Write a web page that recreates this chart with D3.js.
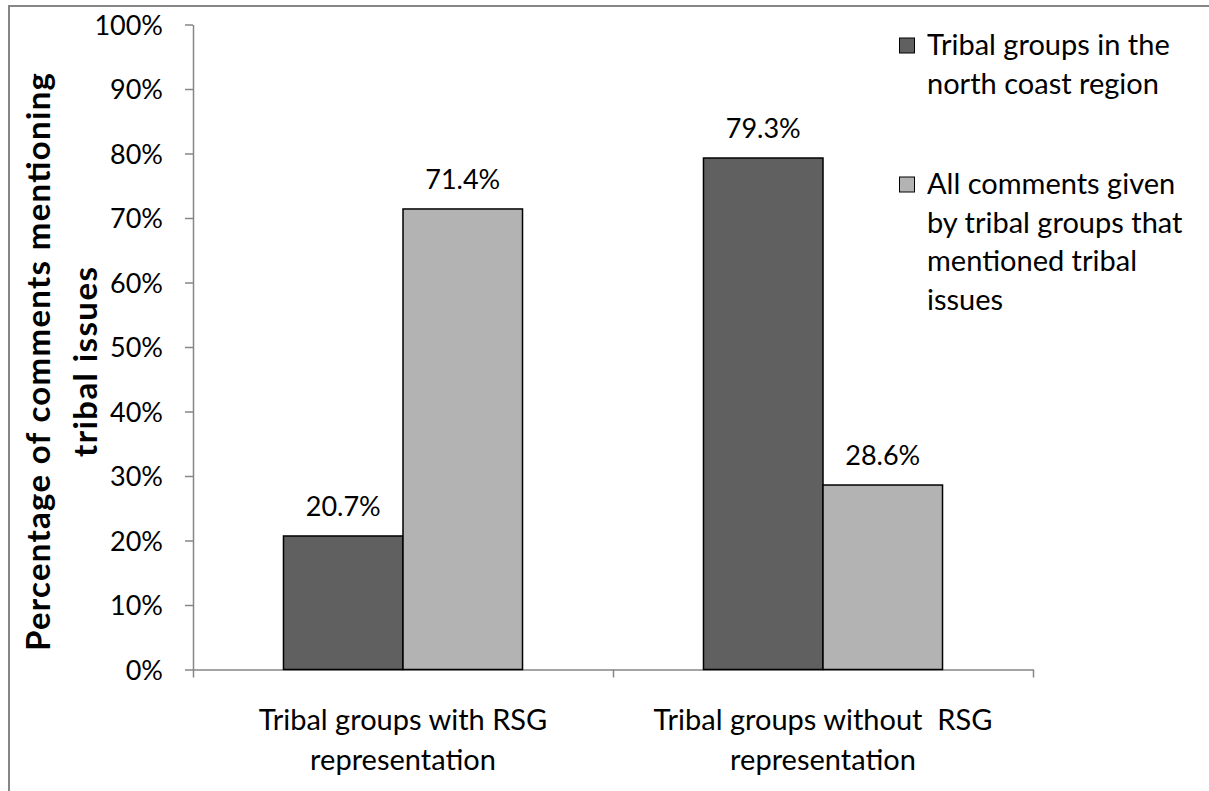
<!DOCTYPE html>
<html>
<head>
<meta charset="utf-8">
<script src="https://cdn.jsdelivr.net/npm/d3@7"></script>
<style>
  body { margin: 0; background: #fff; }
  svg { display: block; }
  text { font-family: Lato, "Open Sans", sans-serif; fill: #000; }
</style>
</head>
<body>
<svg id="chart" width="1209" height="791"></svg>
<script>
// Category labels, one entry per wrapped line
const categories = ["with", "without"];
const categoryLines = [
  ["Tribal groups with RSG", "representation"],
  ["Tribal groups without  RSG", "representation"]
];

// Series names and their wrapped legend lines
const seriesNames = ["north", "all"];
const legendLines = [
  ["Tribal groups in the", "north coast region"],
  ["All comments given", "by tribal groups that", "mentioned tribal", "issues"]
];

// Percentages per category
const northCoastValues = [20.7, 79.3];
const allCommentsValues = [71.4, 28.6];

const yTicks = [0, 10, 20, 30, 40, 50, 60, 70, 80, 90, 100];
const yTitleLines = ["Percentage of comments mentioning", "tribal issues"];

const seriesColors = ["#606060", "#b3b3b3"];
const axisColor = "#868686";

const svg = d3.select("#chart");

// outer frame (left and top edges)
svg.append("path")
  .attr("d", "M9,791V6H1209")
  .attr("fill", "none")
  .attr("stroke", axisColor)
  .attr("stroke-width", 2);

const y = d3.scaleLinear().domain([0, 100]).range([669.5, 24.5]);
const x0 = d3.scaleBand().domain(categories).range([193, 1033]).padding(0);
const x1 = d3.scaleBand().domain(seriesNames).range([0, x0.bandwidth()])
  .paddingInner(0).paddingOuter(0.757);

const table = categories.map((c, i) => ({
  cat: c,
  vals: [
    { s: seriesNames[0], v: northCoastValues[i] },
    { s: seriesNames[1], v: allCommentsValues[i] }
  ]
}));

// y axis
const yAxis = svg.append("g")
  .attr("transform", "translate(193,0)")
  .call(d3.axisLeft(y).tickValues(yTicks).tickFormat(d => d + "%")
    .tickSize(8).tickSizeOuter(0).tickPadding(22));
yAxis.select(".domain").attr("stroke", axisColor).attr("stroke-width", 1.5);
yAxis.selectAll(".tick line").attr("stroke", axisColor).attr("stroke-width", 1.5);
yAxis.selectAll(".tick text")
  .attr("font-size", 27).attr("font-family", "Lato, sans-serif").attr("fill", "#000")
  .attr("dy", "0.36em");

// x axis with ticks on category boundaries
const xEdge = d3.scaleLinear().domain([0, categories.length]).range(x0.range());
const xAxis = svg.append("g")
  .attr("transform", "translate(0,669.5)")
  .call(d3.axisBottom(xEdge).tickValues(d3.range(categories.length + 1))
    .tickFormat("").tickSize(8).tickSizeOuter(0));
xAxis.select(".domain").attr("stroke", axisColor).attr("stroke-width", 1.5);
xAxis.selectAll(".tick line").attr("stroke", axisColor).attr("stroke-width", 1.5);

// bars
const groups = svg.append("g").selectAll("g")
  .data(table).join("g")
  .attr("transform", d => `translate(${x0(d.cat)},0)`);

groups.selectAll("rect")
  .data(d => d.vals).join("rect")
  .attr("x", d => x1(d.s))
  .attr("y", d => y(d.v))
  .attr("width", x1.bandwidth())
  .attr("height", d => y(0) - y(d.v))
  .attr("fill", (d, i) => seriesColors[i])
  .attr("stroke", "#000")
  .attr("stroke-width", 1.5);

// value labels
groups.selectAll("text.val")
  .data(d => d.vals).join("text")
  .attr("class", "val")
  .attr("x", d => x1(d.s) + x1.bandwidth() / 2)
  .attr("y", d => y(d.v) - 20)
  .attr("text-anchor", "middle")
  .attr("font-size", 27)
  .text(d => d.v.toFixed(1) + "%");

// category labels
svg.append("g").selectAll("text")
  .data(categories).join("text")
  .attr("text-anchor", "middle")
  .attr("font-size", 29)
  .attr("x", c => x0(c) + x0.bandwidth() / 2)
  .each(function (c, i) {
    d3.select(this).selectAll("tspan")
      .data(categoryLines[i]).join("tspan")
      .attr("x", x0(c) + x0.bandwidth() / 2)
      .attr("y", (t, j) => 730 + j * 40)
      .style("white-space", "pre")
      .text(t => t);
  });

// y axis title, spaced out along the axis
const titleX = [50, 97];
const titleLen = [578, 190];
svg.append("g").selectAll("text")
  .data(yTitleLines).join("text")
  .attr("transform", (t, i) => `translate(${titleX[i]},362) rotate(-90)`)
  .attr("text-anchor", "middle")
  .attr("font-size", 33)
  .attr("font-weight", "bold")
  .attr("textLength", (t, i) => titleLen[i])
  .attr("lengthAdjust", "spacing")
  .text(t => t);

// legend
const legendTop = [55, 194];
const legend = svg.append("g").selectAll("g")
  .data(seriesNames).join("g");
legend.append("rect")
  .attr("x", 899.5)
  .attr("y", (s, i) => legendTop[i] - 17)
  .attr("width", 15)
  .attr("height", 15)
  .attr("fill", (s, i) => seriesColors[i])
  .attr("stroke", "#000")
  .attr("stroke-width", 1);
legend.append("text")
  .attr("font-size", 29)
  .each(function (s, i) {
    d3.select(this).selectAll("tspan")
      .data(legendLines[i]).join("tspan")
      .attr("x", 927)
      .attr("y", (t, j) => legendTop[i] + j * 38.5)
      .text(t => t);
  });
</script>
</body>
</html>
